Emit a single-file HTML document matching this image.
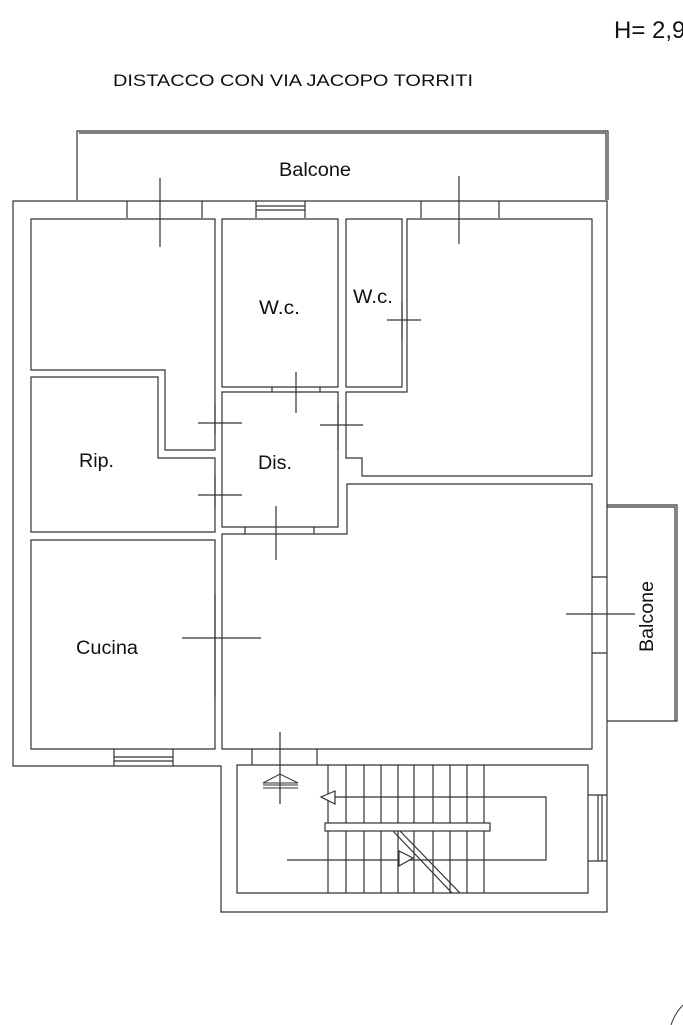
<!DOCTYPE html>
<html><head><meta charset="utf-8"><style>
html,body{margin:0;padding:0;background:#fff;overflow:hidden;}
svg{display:block;}
text{font-family:"Liberation Sans",sans-serif;fill:#111;}
</style></head><body>
<svg width="683" height="1025" viewBox="0 0 683 1025" xmlns="http://www.w3.org/2000/svg">
<g fill="none" stroke="#333" stroke-width="1.2">
<path d="M77 200 V131 H608 V200"/>
<path d="M79 133 H606 V200"/>
<path d="M13 201 H607 V912 H221 V766 H13 Z"/>
<path d="M607 505 H677 V721 H607"/>
<path d="M607 507 H675 V721"/>
<path d="M31 219 H215 V450 H165 V370 H31 Z"/>
<path d="M31 377 H158 V458 H215 V532 H31 Z"/>
<path d="M222 219 H338 V387 H222 Z"/>
<path d="M346 219 H402 V387 H346 Z"/>
<path d="M407 219 H592 V476 H362 V458 H346 V392 H407 Z"/>
<path d="M222 392 H338 V527 H222 Z"/>
<path d="M347 484 H592 V749 H222 V534 H347 Z"/>
<path d="M31 540 H215 V749 H31 Z"/>
<path d="M127 201 V218 M202 201 V218 M256 201 V218 M305 201 V218 M421 201 V218 M499 201 V218"/>
<path d="M256 206 H305 M256 210 H305"/>
<path d="M160 178 V247 M459 176 V244"/>
<path d="M272 387 V392 M320 387 V392 M296 372 V413"/>
<path d="M402 302 V340 M387 320 H421"/>
<path d="M215 403 V434 M198 423 H242"/>
<path d="M215 475 V508 M198 495 H242"/>
<path d="M338 403 V450 M320 425 H363"/>
<path d="M245 527 V534 M314 527 V534 M276 506 V560"/>
<path d="M215 594 V697 M182 638 H261"/>
<path d="M592 577 H607 M592 653 H607 M566 614 H635"/>
<path d="M114 749 V766 M173 749 V766 M114 757 H173 M114 761 H173"/>
<path d="M252 749 V765 M317 749 V765 M280 732 V804"/>
<path d="M263 783 L280 774 L298 783 Z" stroke-width="1"/>
<path d="M263 785 H298 M263 788 H298" stroke-width="1"/>
<path d="M237 765 H588 V893 H237 Z"/>
<path d="M328 765 V893 M346 765 V893 M364 765 V893 M381 765 V893 M398 765 V893 M414 765 V893 M433 765 V893 M450 765 V893 M467 765 V893 M484 765 V893"/>
<rect x="325" y="823" width="165" height="8" fill="#fff"/>
<path d="M393 831 L452 893 M400 831 L460 893"/>
<path d="M321 797 H546 V860 H287"/>
<path d="M321 797 L335 791 V804 Z" fill="#fff"/>
<path d="M413 858 L399 851 V866 Z" fill="#fff"/>
<path d="M588 795 H607 M588 861 H607 M598 795 V861 M602 795 V861"/>
<path d="M683 1005 Q675 1013 671 1025" stroke-width="1"/>
</g>
<text x="614" y="38" font-size="24">H= 2,9</text>
<text x="113" y="86" font-size="17" textLength="360" lengthAdjust="spacingAndGlyphs">DISTACCO CON VIA JACOPO TORRITI</text>
<text x="279" y="176" font-size="19" textLength="72" lengthAdjust="spacingAndGlyphs">Balcone</text>
<text x="259" y="314" font-size="19" textLength="41" lengthAdjust="spacingAndGlyphs">W.c.</text>
<text x="353" y="303" font-size="19" textLength="40" lengthAdjust="spacingAndGlyphs">W.c.</text>
<text x="79" y="467" font-size="19" textLength="35" lengthAdjust="spacingAndGlyphs">Rip.</text>
<text x="258" y="469" font-size="19" textLength="34" lengthAdjust="spacingAndGlyphs">Dis.</text>
<text x="76" y="654" font-size="19" textLength="62" lengthAdjust="spacingAndGlyphs">Cucina</text>
<text x="653" y="652" font-size="19" textLength="71" lengthAdjust="spacingAndGlyphs" transform="rotate(-90 653 652)">Balcone</text>
</svg>
</body></html>
